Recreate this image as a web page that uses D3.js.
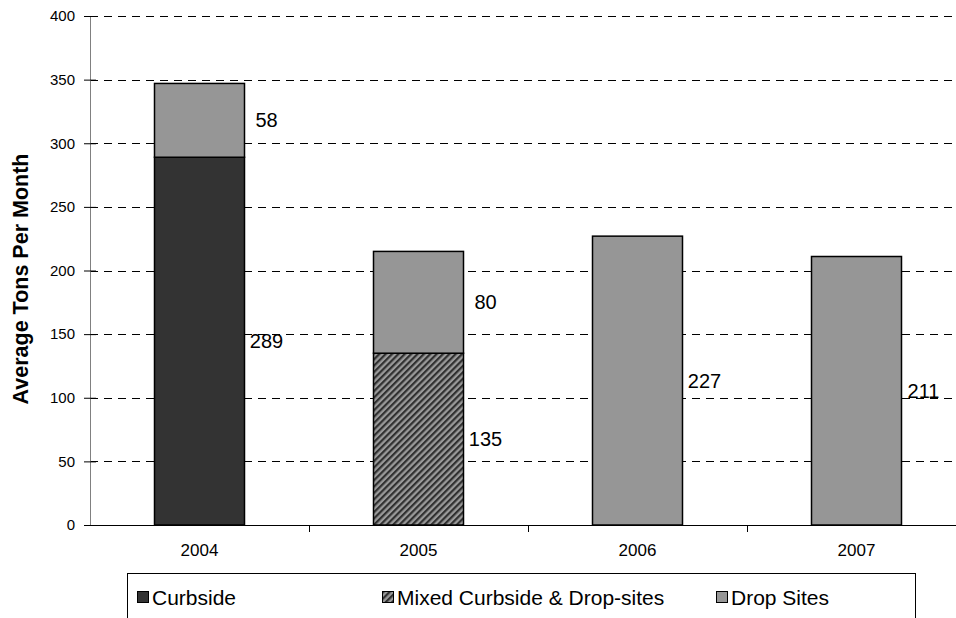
<!DOCTYPE html>
<html><head><meta charset="utf-8">
<script src="https://cdn.jsdelivr.net/npm/d3@7"></script>
<style>body{margin:0;background:#fff}svg{display:block;font-family:"Liberation Sans",Arial,sans-serif}</style>
</head><body><svg id="c" width="956" height="618"></svg>
<script>
const years = ["2004","2005","2006","2007"];
const curbside = [289, 0, 0, 0];
const mixed = [0, 135, 0, 0];
const dropSites = [58, 80, 227, 211];
const yTicks = [0,50,100,150,200,250,300,350,400];
const seriesNames = ["Curbside","Mixed Curbside & Drop-sites","Drop Sites"];

const svg = d3.select("#c");
const mLeft = 90, mTop = 16, mBottom = 525, mRight = 966;
const x = d3.scaleBand().domain(years).range([mLeft, mRight]).paddingInner(0).paddingOuter(0);
const y = d3.scaleLinear().domain([0,400]).range([mBottom, mTop]);
const barW = 90;

const defs = svg.append("defs");
const pat = defs.append("pattern").attr("id","hatch").attr("patternUnits","userSpaceOnUse")
  .attr("width",4.5).attr("height",4.5).attr("patternTransform","rotate(45)");
pat.append("rect").attr("width",4.5).attr("height",4.5).attr("fill","#9a9a9a");
pat.append("rect").attr("width",2.2).attr("height",4.5).attr("fill","#303030");

// gridlines
svg.append("g").selectAll("line").data(yTicks.filter(d=>d>0)).join("line")
  .attr("x1",mLeft).attr("x2",956).attr("y1",d=>Math.round(y(d))+0.5).attr("y2",d=>Math.round(y(d))+0.5)
  .attr("stroke","#000").attr("stroke-width",1).attr("stroke-dasharray","8,6");

// y axis
const ya = svg.append("g").attr("transform",`translate(${mLeft},0)`)
  .call(d3.axisLeft(y).tickValues(yTicks).tickSize(6).tickPadding(9));
ya.select(".domain").attr("stroke","#808080").attr("d",`M0.5,${mTop}V${mBottom}`);
ya.selectAll(".tick line").attr("stroke","#000").attr("x1",6).attr("x2",-6);
ya.selectAll("text").attr("font-size",15).attr("fill","#000").attr("font-family","Liberation Sans, Arial");

// x axis
const xa = svg.append("g").attr("transform",`translate(0,${mBottom})`)
  .call(d3.axisBottom(x).tickSize(0).tickPadding(19));
xa.select(".domain").attr("stroke","#000").attr("d",`M${mLeft},0.5H956`);
xa.selectAll("text").attr("font-size",17).attr("fill","#000").attr("font-family","Liberation Sans, Arial");
svg.append("g").selectAll("line").data(years.slice(1)).join("line")
  .attr("x1",d=>Math.round(x(d))+0.5).attr("x2",d=>Math.round(x(d))+0.5)
  .attr("y1",mBottom).attr("y2",mBottom+7).attr("stroke","#000");

// bars
const stacks = years.map((yr,i)=>{
  const segs=[]; let base=0;
  [[curbside[i],"#333333"],[mixed[i],"url(#hatch)"],[dropSites[i],"#969696"]].forEach(([v,f])=>{
    if(v>0){segs.push({yr,y0:base,y1:base+v,v,fill:f}); base+=v;}
  });
  return segs;
}).flat();
const cx = d=>x(d)+x.bandwidth()/2;
svg.append("g").selectAll("rect").data(stacks).join("rect")
  .attr("x",d=>cx(d.yr)-barW/2).attr("width",barW)
  .attr("y",d=>y(d.y1)).attr("height",d=>y(d.y0)-y(d.y1))
  .attr("fill",d=>d.fill).attr("stroke","#000").attr("stroke-width",1.5);

// labels
svg.append("g").selectAll("text").data(stacks).join("text")
  .attr("x",d=>cx(d.yr)+barW/2+22).attr("y",d=>y((d.y0+d.y1)/2))
  .attr("dy","0.35em").attr("text-anchor","middle").attr("font-size",20).text(d=>d.v);

// y title
svg.append("text").attr("transform","translate(28,279) rotate(-90)")
  .attr("text-anchor","middle").attr("font-size",21.5).attr("font-weight","bold").text("Average Tons Per Month");

// legend
const lg = svg.append("g");
lg.append("rect").attr("x",127.5).attr("y",573.5).attr("width",788).attr("height",60)
  .attr("fill","#fff").attr("stroke","#000");
const fills = ["#333333","url(#hatch)","#969696"];
const lx = [137, 382, 716];
seriesNames.forEach((n,i)=>{
  lg.append("rect").attr("x",lx[i]+0.5).attr("y",591.5).attr("width",11).attr("height",11)
    .attr("fill",fills[i]).attr("stroke","#000");
  lg.append("text").attr("x",lx[i]+15).attr("y",605).attr("font-size",21).text(n);
});
</script></body></html>
